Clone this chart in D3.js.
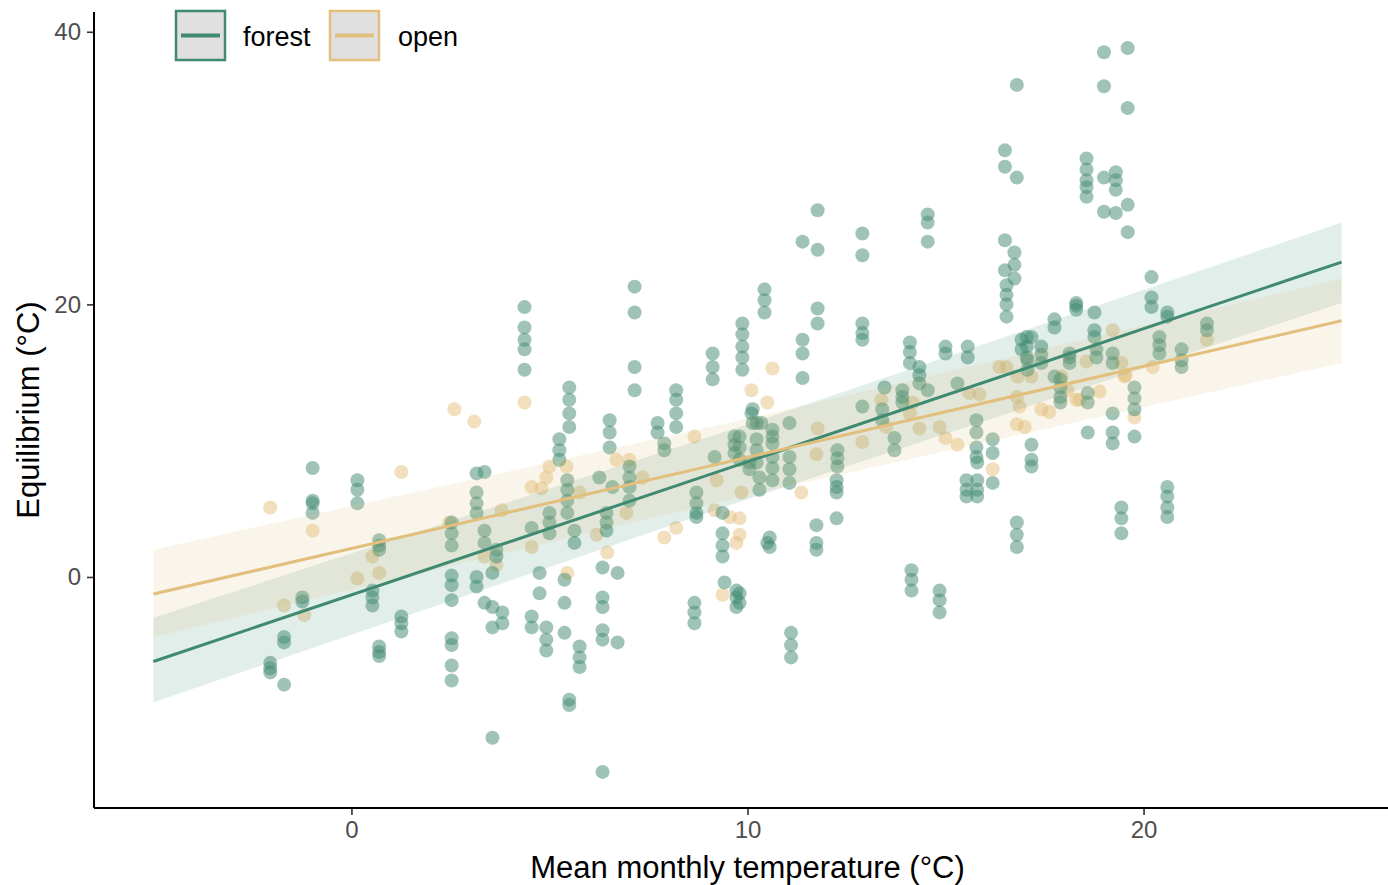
<!DOCTYPE html>
<html>
<head>
<meta charset="utf-8">
<script src="https://cdn.jsdelivr.net/npm/d3@7"></script>
<style>
  html, body { margin: 0; padding: 0; background: #fff; }
  svg { display: block; font-family: "Liberation Sans", Arial, Helvetica, sans-serif; }
</style>
</head>
<body>
<svg id="chart" width="1388" height="885"></svg>
<script>
// ---- Data ----
const groups = ["forest", "open"];
const groupColors = ["#3f8a70", "#e3bf7e"];

// forest sites: [mean monthly temperature, [equilibrium values]]
const forestSites = [
  [-2.05, [-6.3, -6.7, -7.0]],
  [-1.7, [-4.4, -4.8, -7.9]],
  [-1.24, [-1.5, -1.8]],
  [-0.98, [8.0, 5.6, 5.4, 4.7]],
  [0.15, [7.1, 6.4, 5.4]],
  [0.53, [-1.0, -1.5, -2.1]],
  [0.7, [2.7, 2.3, 2.0, -5.1, -5.5, -5.8]],
  [1.26, [-2.9, -3.4, -4.0]],
  [2.53, [4.0, 3.2, 2.3, 0.1, -0.6, -1.7, -4.5, -5.0, -6.5, -7.6]],
  [3.16, [7.6, 6.2, 5.4, 4.7, 0.0, -0.7]],
  [3.36, [7.7, 3.4, 2.5, -1.9]],
  [3.56, [0.3, -2.2, -3.7, -11.8]],
  [3.66, [2.0, 1.5]],
  [3.81, [-2.6, -3.4]],
  [4.37, [19.8, 18.3, 17.4, 16.7, 15.2]],
  [4.55, [3.6, -2.9, -3.7]],
  [4.75, [0.3, -1.2]],
  [4.92, [-3.7, -4.6, -5.4]],
  [5.0, [4.7, 4.0, 3.2]],
  [5.25, [10.1, 9.3, 8.6]],
  [5.38, [-0.2, -1.9, -4.1]],
  [5.45, [7.1, 6.4, 5.6, 4.7]],
  [5.5, [13.9, 13.0, 12.0, 11.0, -9.0, -9.4]],
  [5.63, [3.4, 2.5]],
  [5.76, [-5.1, -5.9, -6.6]],
  [6.26, [7.3]],
  [6.34, [0.7, -1.5, -2.2, -3.9, -4.6, -14.3]],
  [6.44, [4.7, 4.0, 3.4]],
  [6.52, [11.5, 10.6, 9.5]],
  [6.59, [6.6]],
  [6.72, [0.3, -4.8]],
  [7.02, [8.1, 7.3, 6.6, 5.6]],
  [7.15, [21.3, 19.4, 15.4, 13.7]],
  [7.73, [11.3, 10.6]],
  [7.9, [9.8, 9.3]],
  [8.2, [13.7, 13.0, 12.0, 11.0]],
  [8.66, [-1.9, -2.6, -3.4]],
  [8.71, [6.2, 5.4, 4.7, 4.4]],
  [9.12, [16.4, 15.4, 14.5]],
  [9.17, [8.8]],
  [9.37, [4.7, 3.2, 2.3, 1.5]],
  [9.42, [-0.4]],
  [9.67, [10.3, 9.7, 9.1]],
  [9.72, [-1.0, -1.5, -2.2]],
  [9.8, [10.3, 9.5, 8.6, -1.2, -1.9]],
  [9.87, [18.6, 17.8, 16.9, 16.1, 15.2]],
  [10.05, [8.4, 7.9]],
  [10.1, [12.0]],
  [10.13, [12.3, 11.3]],
  [10.23, [11.3, 10.1, 9.3, 8.4]],
  [10.3, [7.3, 6.4]],
  [10.35, [11.3]],
  [10.43, [21.1, 20.3, 19.4]],
  [10.5, [2.5]],
  [10.56, [2.9, 2.2]],
  [10.63, [10.8, 10.3, 9.8, 8.8, 8.0, 7.1]],
  [11.06, [11.3, 8.8, 7.9, 6.9]],
  [11.1, [-4.1, -5.0, -5.9]],
  [11.39, [24.6, 17.4, 16.4, 14.6]],
  [11.74, [3.8, 2.5, 2.0]],
  [11.77, [26.9, 24.0, 19.7, 18.6]],
  [12.25, [7.1, 6.6, 6.2, 4.3]],
  [12.27, [9.3, 8.7, 8.1]],
  [12.9, [25.2, 23.6, 18.6, 17.9, 17.4, 12.5]],
  [13.4, [12.3, 11.5]],
  [13.46, [13.9]],
  [13.71, [10.2, 9.3]],
  [13.91, [13.7, 13.2, 12.8]],
  [14.1, [17.2, 16.5, 15.7]],
  [14.14, [0.5, -0.2, -1.0]],
  [14.34, [15.4, 14.8, 14.2]],
  [14.55, [26.6, 26.0, 24.6, 13.7]],
  [14.85, [-1.0, -1.7, -2.6]],
  [15.0, [16.9, 16.4]],
  [15.3, [14.2]],
  [15.53, [7.1, 6.4, 5.9]],
  [15.56, [16.9, 16.1]],
  [15.78, [11.5, 10.6, 9.5, 8.8]],
  [15.8, [8.4, 7.1, 6.4, 5.9]],
  [16.19, [10.1, 9.1, 6.9]],
  [16.5, [31.3, 30.1, 24.7, 22.5]],
  [16.54, [21.4, 20.7, 20.0, 19.1]],
  [16.74, [23.8, 22.9, 21.9]],
  [16.8, [36.1, 29.3, 4.0, 3.1, 2.2]],
  [16.92, [17.4, 16.7]],
  [17.05, [17.6, 16.9, 16.1]],
  [17.07, [15.9, 15.2]],
  [17.17, [17.6, 9.7, 8.6, 8.1]],
  [17.42, [16.9, 16.3, 15.7]],
  [17.75, [18.9, 18.3, 14.7]],
  [17.9, [14.5, 13.9, 13.2, 12.8]],
  [18.13, [16.4, 16.1, 15.7]],
  [18.3, [20.1, 19.9, 19.6]],
  [18.56, [30.7, 29.9, 29.1, 28.6, 27.9]],
  [18.59, [13.5, 12.8, 10.6]],
  [18.76, [19.4, 18.1, 17.6]],
  [18.81, [16.7, 16.1]],
  [19.0, [38.5, 36.0, 29.3, 26.8]],
  [19.22, [16.4, 15.7, 12.0, 10.6, 9.8]],
  [19.3, [29.7, 29.1, 28.4, 26.7]],
  [19.44, [5.1, 4.3, 3.2]],
  [19.6, [38.8, 34.4, 27.3, 25.3]],
  [19.77, [13.9, 13.1, 12.3, 10.3]],
  [20.2, [22.0, 20.5, 19.8]],
  [20.4, [17.6, 17.0, 16.4]],
  [20.6, [19.4, 19.1, 6.6, 5.9, 5.1, 4.4]],
  [20.96, [16.7, 15.9, 15.4]],
  [21.6, [18.6, 18.1]]
];

// open points: [mean monthly temperature, equilibrium]
const openPoints = [
  [-2.05, 5.1], [-0.98, 3.4], [1.26, 7.7], [2.6, 12.3], [3.1, 11.4], [-1.7, -2.1],
  [-1.19, -2.8], [0.15, -0.1], [0.7, 0.3], [0.53, 1.5], [2.47, 4.0], [4.37, 12.8],
  [3.79, 4.9], [3.36, 1.5], [3.66, 0.9], [4.55, 6.6], [4.92, 7.3], [5.0, 8.1],
  [4.8, 6.5], [5.43, 8.1], [5.76, 6.2], [4.55, 2.2], [5.45, 0.3], [6.19, 3.1],
  [6.46, 1.8], [6.69, 8.6], [7.02, 8.6], [7.35, 7.3], [6.94, 4.7], [7.9, 2.9],
  [8.2, 3.6], [8.66, 10.3], [9.22, 7.1], [9.17, 4.9], [9.55, 4.4], [9.72, 2.5],
  [9.85, 6.2], [9.37, -1.3], [10.1, 13.7], [10.5, 12.8], [10.63, 15.3], [11.77, 10.9],
  [11.74, 9.0], [11.36, 6.2], [12.9, 9.9], [14.34, 10.9], [14.85, 11.0], [15.0, 10.2],
  [15.3, 9.7], [16.54, 15.4], [16.82, 14.7], [16.8, 13.2], [15.6, 13.5], [15.86, 13.4],
  [16.19, 7.9], [16.8, 11.2], [17.42, 12.3], [18.08, 13.7], [18.3, 13.0], [9.8, 4.3],
  [9.8, 3.1], [14.17, 12.8], [13.38, 13.0], [16.36, 15.4], [16.87, 12.5], [17.17, 14.7],
  [17.93, 14.7], [18.38, 13.0], [18.89, 13.6], [19.22, 18.1], [19.44, 15.7], [19.77, 11.7],
  [20.23, 15.4], [21.6, 17.4], [18.56, 15.8], [19.52, 14.7], [13.5, 11.0], [14.1, 12.0],
  [17.0, 11.0], [17.62, 12.1], [19.55, 14.8]
];

// fitted lines and confidence ribbons
const fitX = [-5, 25];
const forestFit = [-6.2, 23.1];
const openFit = [-1.25, 18.8];
const bandX = [-5, 10, 25];
const forestLo = [-9.2, 5.7, 20.1];
const forestHi = [-3.0, 11.2, 26.0];
const openLo = [-4.4, 6.0, 15.7];
const openHi = [2.0, 11.6, 21.9];

const xTicks = [0, 10, 20];
const yTicks = [0, 20, 40];
const xTitle = "Mean monthly temperature (°C)";
const yTitle = "Equilibrium (°C)";

// ---- Drawing ----
const svg = d3.select("#chart");
const mLeft = 94, mBottom = 808, mTop = 12, mRight = 1401;

const x = d3.scaleLinear().domain([-6.5, 26.5]).range([mLeft, mRight]);
const y = d3.scaleLinear().domain([-16.95, 41.45]).range([mBottom, mTop]);

const forestPoints = forestSites.flatMap(([tx, ys]) => ys.map(v => [tx, v]));

const plot = svg.append("g");

// points (open first, then forest)
plot.append("g").selectAll("circle").data(openPoints).join("circle")
  .attr("cx", d => x(d[0])).attr("cy", d => y(d[1])).attr("r", 7)
  .attr("fill", groupColors[1]).attr("fill-opacity", 0.5);
plot.append("g").selectAll("circle").data(forestPoints).join("circle")
  .attr("cx", d => x(d[0])).attr("cy", d => y(d[1])).attr("r", 7)
  .attr("fill", groupColors[0]).attr("fill-opacity", 0.5);

// ribbons
const area = (lo, hi) => d3.area()
  .x((d, i) => x(bandX[i])).y0((d, i) => y(lo[i])).y1((d, i) => y(hi[i]))(bandX);
plot.append("path").attr("d", area(forestLo, forestHi))
  .attr("fill", groupColors[0]).attr("fill-opacity", 0.15);
plot.append("path").attr("d", area(openLo, openHi))
  .attr("fill", groupColors[1]).attr("fill-opacity", 0.16);

// lines
const line = vals => d3.line().x((d, i) => x(fitX[i])).y((d, i) => y(vals[i]))(fitX);
plot.append("path").attr("d", line(forestFit)).attr("fill", "none")
  .attr("stroke", groupColors[0]).attr("stroke-width", 3);
plot.append("path").attr("d", line(openFit)).attr("fill", "none")
  .attr("stroke", groupColors[1]).attr("stroke-width", 3);

// axes
const xAxis = svg.append("g").attr("transform", `translate(0,${mBottom})`)
  .call(d3.axisBottom(x).tickValues(xTicks).tickSize(7).tickPadding(6).tickFormat(d3.format("d")));
const yAxis = svg.append("g").attr("transform", `translate(${mLeft},0)`)
  .call(d3.axisLeft(y).tickValues(yTicks).tickSize(7).tickPadding(6).tickFormat(d3.format("d")));
[xAxis, yAxis].forEach(a => {
  a.select(".domain").remove();
  a.selectAll(".tick line").attr("stroke", "#333").attr("stroke-width", 1.6);
  a.selectAll(".tick text").attr("fill", "#4d4d4d").attr("font-size", 24)
    .attr("font-family", "Liberation Sans, Arial, sans-serif");
});
svg.append("line").attr("x1", mLeft).attr("x2", 1388).attr("y1", mBottom).attr("y2", mBottom)
  .attr("stroke", "#000").attr("stroke-width", 2);
svg.append("line").attr("x1", mLeft).attr("x2", mLeft).attr("y1", mTop).attr("y2", mBottom)
  .attr("stroke", "#000").attr("stroke-width", 2);

// titles
svg.append("text").attr("x", (mLeft + mRight) / 2).attr("y", 878).attr("text-anchor", "middle")
  .attr("font-size", 31).attr("fill", "#000").text(xTitle);
svg.append("text").attr("transform", `translate(39,${(mTop + mBottom) / 2}) rotate(-90)`)
  .attr("text-anchor", "middle").attr("font-size", 31).attr("fill", "#000").text(yTitle);

// legend
const legendX = [176, 330];
const textX = [243, 398];
groups.forEach((g, i) => {
  const lg = svg.append("g");
  lg.append("rect").attr("x", legendX[i]).attr("y", 11).attr("width", 49).attr("height", 49)
    .attr("fill", "#e0e0e0").attr("stroke", groupColors[i]).attr("stroke-width", 2.5);
  lg.append("line").attr("x1", legendX[i] + 5).attr("x2", legendX[i] + 44)
    .attr("y1", 35.5).attr("y2", 35.5).attr("stroke", groupColors[i]).attr("stroke-width", 4);
  lg.append("text").attr("x", textX[i]).attr("y", 46).attr("font-size", 27)
    .attr("fill", "#000").text(g);
});
</script>
</body>
</html>
